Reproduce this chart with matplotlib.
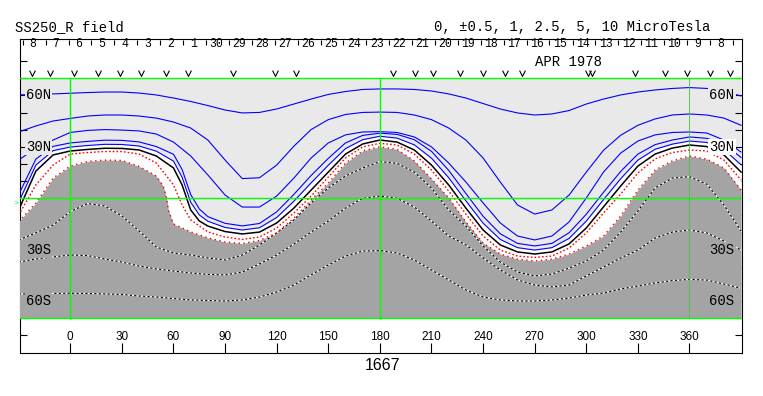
import matplotlib
matplotlib.use("Agg")
import matplotlib.pyplot as plt
import numpy as np

# ---------------- data ----------------
title_left = "SS250_R field"
title_right = "0, \u00b10.5, 1, 2.5, 5, 10 MicroTesla"
month_label = "APR 1978"
rotation_label = "1667"

lon_tick_values = [0, 30, 60, 90, 120, 150, 180, 210, 240, 270, 300, 330, 360]
lat_label_values = [60, 30, -30, -60]
lat_label_texts = ["60N", "30N", "30S", "60S"]

day_numbers = [8, 7, 6, 5, 4, 3, 2, 1, 30, 29, 28, 27, 26, 25, 24, 23, 22, 21,
               20, 19, 18, 17, 16, 15, 14, 13, 12, 11, 10, 9, 8]
day_tick_lon = [-27.6, -14.3, -1.0, 12.3, 25.6, 39.0, 52.3, 65.6, 78.9, 92.2,
                105.5, 118.9, 132.2, 145.5, 158.8, 172.1, 185.4, 198.7, 212.1,
                225.4, 238.7, 252.0, 265.3, 278.6, 292.0, 305.3, 318.6, 331.9,
                345.2, 358.5, 371.9, 385.2]
obs_mark_lon = [-22.4, -11.8, 2.3, 16.3, 28.9, 41.1, 55.5, 68.6, 94.8, 119.0,
                131.2, 187.8, 200.4, 211.0, 226.5, 239.8, 252.7, 262.4, 300.9,
                303.5, 328.3, 345.8, 358.6, 372.0, 383.6]

grid_lon = list(range(-30, 391, 10))

# positive contours (blue)
pos10_lat = [60.3, 60.6, 60.9, 61.3, 61.7, 62.0, 62.0, 61.4, 60.3, 58.5, 56.5,
             54.1, 51.5, 49.8, 50.1, 52.1, 55.0, 57.9, 60.6, 62.3, 63.5, 63.8,
             63.8, 63.5, 62.6, 60.9, 58.5, 55.3, 52.1, 49.8, 48.6, 49.2, 51.2,
             55.0, 57.9, 60.3, 62.0, 63.2, 64.1, 64.6, 64.1, 62.3, 59.7]
pos5_lat = [38.7, 42.2, 45.1, 46.6, 48.0, 48.6, 48.6, 48.0, 46.8, 44.5, 41.0,
            34.0, 22.3, 11.5, 12.0, 19.4, 30.4, 40.1, 45.9, 48.9, 50.1, 50.3,
            50.1, 48.6, 45.9, 41.0, 34.0, 23.5, 9.5, -3.9, -9.2, -6.8, 1.9,
            15.3, 28.0, 36.8, 42.6, 46.3, 48.6, 49.2, 48.6, 46.8, 42.6]
pos2p5_lat = [22.3, 29.3, 34.0, 38.4, 39.6, 40.1, 39.8, 39.3, 37.5, 32.8, 24.7,
              13.6, 1.9, -5.1, -5.1, 1.3, 11.8, 23.5, 32.3, 37.0, 38.7, 38.9,
              38.4, 35.8, 30.0, 20.6, 9.5, -2.7, -14.4, -22.0, -24.3, -22.0,
              -13.8, 0.2, 15.3, 26.4, 33.4, 37.0, 38.4, 38.7, 38.1, 34.0, 27.0]

fine_lon = [-30, -20, -10, 0, 10, 20, 30, 40, 50, 60, 65, 70, 75] + list(range(80, 391, 10))
pos1_lat = [2.2, 22.9, 30.3, 32.3, 33.2, 33.9, 33.8, 32.9, 30.2, 25.7, 16.8,
            2.2, -6.2, -10.7, -14.6, -16.1, -14.7, -7.9, 2.3, 13.3, 23.3, 32.3,
            36.7, 38.0, 37.3, 34.2, 27.4, 16.3, 2.8, -10.5, -20.7, -26.3,
            -27.8, -26.3, -20.1, -9.3, 3.5, 15.7, 25.8, 31.3, 34.0, 35.8, 35.0,
            31.8, 23.8]
pos05_lat = [-2.3, 19.4, 27.8, 29.9, 30.8, 31.5, 31.4, 30.5, 27.5, 21.7, 12.3,
             -2.3, -9.7, -13.4, -17.0, -18.5, -17.2, -11.2, -1.7, 9.0, 19.3,
             29.0, 34.2, 36.2, 35.1, 31.2, 23.4, 12.0, -1.5, -14.5, -24.0,
             -28.8, -30.2, -28.8, -23.4, -13.3, -0.8, 11.4, 22.3, 28.6, 31.6,
             33.4, 32.6, 28.5, 19.5]
zero_lat = [-6.8, 15.9, 25.3, 27.6, 28.5, 29.2, 29.1, 28.2, 24.7, 17.7, 7.8,
            -6.8, -13.2, -16.2, -19.4, -20.8, -19.7, -14.4, -5.7, 4.8, 15.3,
            25.8, 31.7, 34.0, 32.8, 28.2, 19.4, 7.8, -5.7, -18.5, -27.2, -31.3,
            -32.5, -31.3, -26.6, -17.3, -5.0, 7.2, 18.8, 25.8, 29.3, 31.1,
            30.2, 25.3, 15.3]

neg05_lon = [-30, -20, -10, 0, 10, 20, 30, 40, 50, 60, 65, 70] + list(range(80, 391, 10))
neg05_lat = [-9.7, 7.8, 19.4, 25.8, 26.7, 27.3, 27.3, 25.8, 20.6, 7.8, -3.9,
             -12.6, -19.6, -22.6, -24.0, -22.6, -17.3, -8.6, 1.3, 12.4, 23.5,
             30.0, 32.1, 31.1, 25.8, 16.5, 4.3, -9.2, -22.0, -30.2, -33.7,
             -34.5, -33.7, -29.0, -20.2, -8.6, 2.5, 14.8, 23.0, 26.7, 28.2,
             27.6, 22.3, 10.7]

neg1_lon = [-30, -20, -10, 0, 10, 20, 30, 40, 50, 54, 56, 57, 60] + list(range(70, 391, 10))
neg1_lat = [-13.6, -2.7, 11.8, 18.8, 21.5, 22.3, 22.1, 18.6, 13.0, 7.2, 0.2,
            -6.8, -15.0, -19.6, -23.1, -25.5, -26.4, -24.6, -20.2, -11.5, -1.0,
            8.9, 20.6, 27.6, 30.1, 28.5, 21.8, 11.3, 0.2, -13.8, -26.1, -32.5,
            -35.5, -36.6, -35.5, -32.5, -27.8, -22.0, -10.3, 4.8, 16.5, 21.8,
            24.7, 22.9, 17.7, 4.8]

# negative contours (dotted, inside the dark region)
neg2p5_lat = [-24.3, -20.2, -15.6, -7.8, -3.0, -4.5, -10.3, -19.1, -28.4,
              -31.9, -33.1, -34.8, -36.0, -33.1, -27.2, -20.2, -12.6, -2.7, 6.0,
              13.0, 17.7, 21.4, 20.4, 15.3, 6.0, -6.8, -16.2, -27.8, -37.2,
              -43.0, -45.3, -44.2, -40.7, -36.6, -30.2, -19.7, -7.4, 6.0, 11.8,
              12.6, 8.3, -3.9, -19.1]
neg5_lat = [-37.2, -35.4, -34.2, -33.1, -33.4, -35.4, -37.2, -39.5, -41.2,
            -42.4, -43.6, -44.4, -44.7, -43.0, -38.3, -33.1, -26.7, -19.7,
            -13.3, -5.7, 0.0, 1.3, 0.0, -5.1, -13.3, -22.0, -27.2, -34.8,
            -41.8, -47.6, -50.6, -51.7, -50.6, -45.3, -40.1, -34.8, -30.2,
            -23.2, -19.7, -18.5, -20.2, -24.9, -30.2]
neg10_lat = [-55.8, -55.8, -55.5, -55.4, -55.5, -55.8, -56.1, -57.0, -57.6,
             -58.5, -59.3, -59.6, -59.9, -59.3, -57.6, -54.7, -50.6, -44.7,
             -38.9, -33.7, -30.8, -30.5, -31.9, -36.0, -41.8, -47.6, -53.5,
             -57.6, -59.3, -59.9, -59.9, -59.3, -58.2, -56.4, -55.3, -52.9,
             -51.2, -49.4, -48.0, -47.3, -47.7, -50.0, -52.5]

# ---------------- styles ----------------
LIGHT = "#e9e9e9"
DARK = "#a4a4a4"
GREEN = "#00ff00"
MONO = ["Liberation Mono", "DejaVu Sans Mono"]
SANS = ["Liberation Sans", "DejaVu Sans"]

W, H, DPI = 763, 396, 100
fig = plt.figure(figsize=(W / DPI, H / DPI), dpi=DPI)
fig.patch.set_facecolor("white")
ax = fig.add_axes([20 / W, (H - 353.3) / H, (741.7 - 20) / W, (353.3 - 39) / H])
ax.set_xlim(-29.24, 390.35)
ax.set_ylim(-90.43, 92.94)
ax.set_facecolor("white")

# field shading
ax.fill_between([-30, 390], -70, 70, color=LIGHT, lw=0, zorder=1)
ax.fill_between(fine_lon, pos05_lat, -70, color="white", lw=0, zorder=2)
ax.fill_between(neg1_lon, neg1_lat, -70, color=DARK, lw=0, zorder=3)

# positive contours
for lat in (pos10_lat, pos5_lat, pos2p5_lat):
    ax.plot(grid_lon, lat, color="#0000ff", lw=0.8, zorder=5)
for lat in (pos1_lat, pos05_lat):
    ax.plot(fine_lon, lat, color="#0000ff", lw=0.8, zorder=5)
# neutral line
ax.plot(fine_lon, zero_lat, color="black", lw=1.1, zorder=6)
# -0.5 and -1 (red dotted)
ax.plot(neg05_lon, neg05_lat, color="red", lw=1.0, ls=(0, (1.2, 1.5)), zorder=6)
ax.plot(neg1_lon, neg1_lat, color="red", lw=1.0, ls=(0, (1.0, 2.5)), zorder=6)
# negative contours: black dashes on white
for lat in (neg2p5_lat, neg5_lat, neg10_lat):
    ax.plot(grid_lon, lat, color="white", lw=0.8, zorder=5)
    ax.plot(grid_lon, lat, color="black", lw=0.8, ls=(0, (2, 2)), zorder=5)

# green grid lines
for yv in (70, 0, -70):
    ax.plot([-30, 390], [yv, yv], color=GREEN, lw=1.0, zorder=8)
for xv in (0, 180):
    ax.plot([xv, xv], [-70, 70], color=GREEN, lw=1.0, zorder=8)
ax.plot([360, 360], [-70, 70], color="#3cc83c", lw=0.6, zorder=8)

# latitude labels (with background boxes)
left_bg = [LIGHT, LIGHT, DARK, DARK]
right_bg = [LIGHT, "white", DARK, DARK]
for yv, txt, lb, rb in zip(lat_label_values, lat_label_texts, left_bg, right_bg):
    ax.text(-25.6, yv, txt, family=MONO, fontsize=10, ha="left", va="center",
            zorder=9, bbox=dict(boxstyle="square,pad=0.08", fc=lb, ec="none"))
    ax.text(386.2, yv, txt, family=MONO, fontsize=10, ha="right", va="center",
            zorder=9, bbox=dict(boxstyle="square,pad=0.08", fc=rb, ec="none"))

# axis ticks
ax.set_yticks(np.arange(-80, 81, 10))
ax.tick_params(axis="y", direction="in", length=5, width=0.8, left=True,
               right=True, labelleft=False, labelright=False)
ax.set_xticks(lon_tick_values)
ax.tick_params(axis="x", direction="in", length=7.2, width=0.8, bottom=True,
               top=False, labelbottom=False)
for xv in lon_tick_values:
    ax.text(xv, -81.0, str(xv), family=SANS, fontsize=8.5, ha="center",
            va="center", zorder=9)
for s in ax.spines.values():
    s.set_linewidth(0.8)
    s.set_color("black")

# date strip
ax.vlines(day_tick_lon, 89.6, 92.2, color="black", lw=0.8, zorder=9)
for lon, d in zip(day_tick_lon[:-1], day_numbers):
    ax.text(lon + 6.0, 90.2, str(d), family=MONO, fontsize=8.3, ha="center",
            va="center", zorder=9)
# observation marks drawn as small open "v" markers
v_marker = [(-1.0, 1.0), (0.0, -1.0), (1.0, 1.0)]
ax.plot(obs_mark_lon, [73.0] * len(obs_mark_lon), ls="none", marker=v_marker,
        markersize=4.2, markerfacecolor="none", markeredgecolor="black",
        markeredgewidth=0.8, zorder=9)
ax.text(289.7, 79.6, month_label, family=MONO, fontsize=10, ha="center",
        va="center", zorder=9)

# small marker at the equator
ax.text(-31.5, -2.8, ">", family=MONO, fontsize=6, color=GREEN, ha="center",
        va="center", clip_on=False)

# titles
fig.text(15 / W, 1 - 27 / H, title_left, family=MONO, fontsize=10,
         ha="left", va="center")
fig.text(710 / W, 1 - 27 / H, title_right, family=MONO, fontsize=10,
         ha="right", va="center")
ax.text(181.3, -97.8, rotation_label, family=SANS, fontsize=11.5,
        ha="center", va="center", clip_on=False)

fig.savefig("out.png", dpi=DPI)
